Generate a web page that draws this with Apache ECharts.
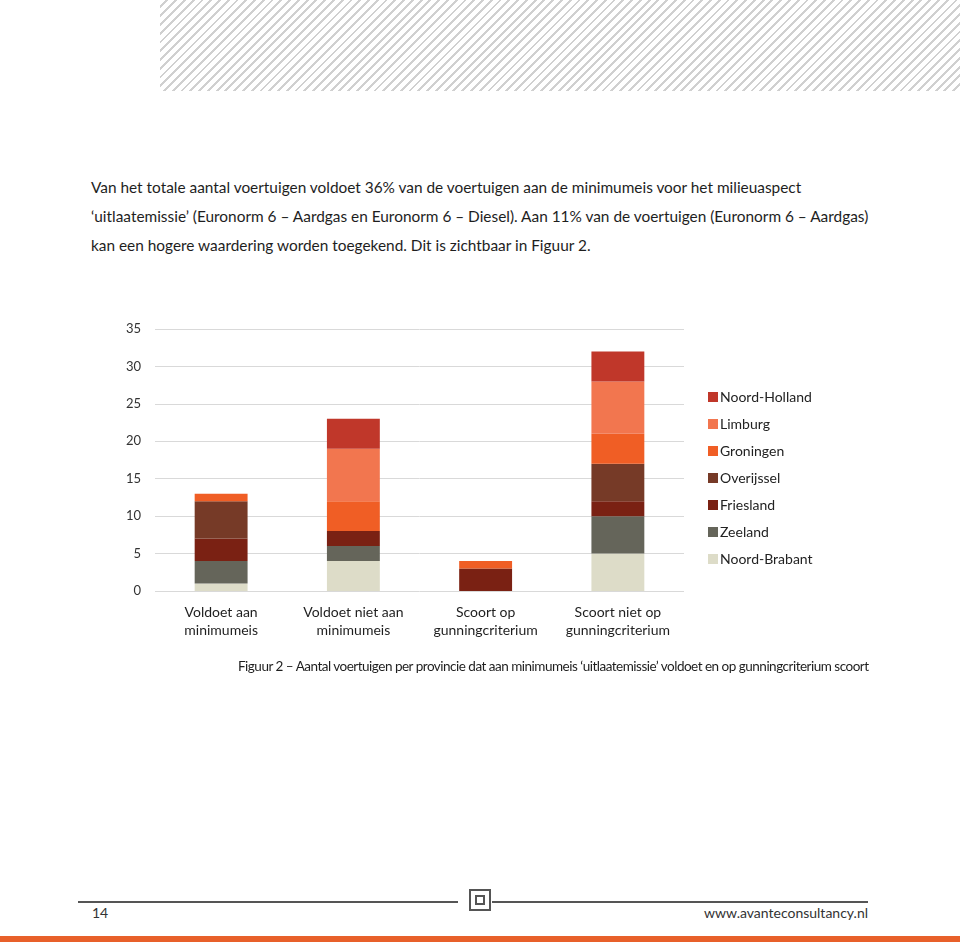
<!DOCTYPE html>
<html>
<head>
<meta charset="utf-8">
<script src="https://cdn.jsdelivr.net/npm/echarts@6/dist/echarts.min.js"></script>
<style>
  html, body { margin:0; padding:0; width:960px; height:942px; background:#fff; overflow:hidden; font-family: Lato, "Open Sans", sans-serif; color:#1e1e1e; }
  #hatch { position:absolute; left:160px; top:0; width:800px; height:91px;
    background: repeating-linear-gradient(135deg, #fff 0px, #fff 4.2px, #d0d0d0 4.2px, #d0d0d0 6.2px); }
  .para { position:absolute; left:91px; font-size:15.4px; white-space:nowrap; }
  #chart { position:absolute; left:0; top:300px; width:960px; height:360px; }
  #caption { position:absolute; left:238px; top:658px; font-size:13.5px; letter-spacing:-0.5px; white-space:nowrap; }
  .fline { position:absolute; top:901px; height:2px; background:#555; }
  #icon { position:absolute; left:469px; top:889px; width:18px; height:18px; border:2px solid #555; }
  #icon div { position:absolute; left:4px; top:4px; width:6px; height:6px; border:2px solid #555; }
  #pnum { position:absolute; left:92px; top:904px; font-size:14px; color:#333; }
  #url { position:absolute; right:92px; top:904px; font-size:14px; color:#333; }
  #orange { position:absolute; left:0; top:936px; width:960px; height:6px; background:#E8602A; }
</style>
</head>
<body>
<div id="hatch"></div>
<div class="para" style="top:178px">Van het totale aantal voertuigen voldoet 36% van de voertuigen aan de minimumeis voor het milieuaspect</div>
<div class="para" style="top:207px">‘uitlaatemissie’ (Euronorm 6 – Aardgas en Euronorm 6 – Diesel). Aan 11% van de voertuigen (Euronorm 6 – Aardgas)</div>
<div class="para" style="top:236px">kan een hogere waardering worden toegekend. Dit is zichtbaar in Figuur 2.</div>
<div id="chart"></div>
<div id="caption">Figuur 2 – Aantal voertuigen per provincie dat aan minimumeis ‘uitlaatemissie’ voldoet en op gunningcriterium scoort</div>
<div class="fline" style="left:78px; width:380px"></div>
<div class="fline" style="left:492px; width:376px"></div>
<div id="icon"><div></div></div>
<div id="pnum">14</div>
<div id="url">www.avanteconsultancy.nl</div>
<div id="orange"></div>
<script>
const categories = ['Voldoet aan\nminimumeis', 'Voldoet niet aan\nminimumeis', 'Scoort op\ngunningcriterium', 'Scoort niet op\ngunningcriterium'];
const noordBrabant = [1, 4, 0, 5];
const zeeland      = [3, 2, 0, 5];
const friesland    = [3, 2, 3, 2];
const overijssel   = [5, 0, 0, 5];
const groningen    = [1, 4, 1, 4];
const limburg      = [0, 7, 0, 7];
const noordHolland = [0, 4, 0, 4];
const yTicks = [0, 5, 10, 15, 20, 25, 30, 35];

const seriesDefs = [
  { name: 'Noord-Brabant', data: noordBrabant, color: '#DDDCC8' },
  { name: 'Zeeland',       data: zeeland,      color: '#65655A' },
  { name: 'Friesland',     data: friesland,    color: '#7A2113' },
  { name: 'Overijssel',    data: overijssel,   color: '#763A27' },
  { name: 'Groningen',     data: groningen,    color: '#F05E25' },
  { name: 'Limburg',       data: limburg,      color: '#F2764F' },
  { name: 'Noord-Holland', data: noordHolland, color: '#C0372A' }
];

const chart = echarts.init(document.getElementById('chart'), null, { renderer: 'canvas' });
chart.setOption({
  animation: false,
  textStyle: { fontFamily: 'Lato, "Open Sans", sans-serif' },
  grid: { left: 155, right: 276, top: 29, height: 262 },
  legend: {
    orient: 'vertical', left: 703, top: 85,
    itemWidth: 10, itemHeight: 10, itemGap: 13, icon: 'rect',
    data: seriesDefs.map(s => s.name).reverse(),
    textStyle: { fontSize: 14, color: '#222', padding: [0, 0, 0, -3] }
  },
  xAxis: {
    type: 'category', data: categories,
    axisLine: { show: false }, axisTick: { show: false },
    axisLabel: { fontSize: 14, color: '#1e1e1e', lineHeight: 18, margin: 12, interval: 0 }
  },
  yAxis: {
    type: 'value', min: 0, max: yTicks[yTicks.length - 1], interval: 5,
    axisLine: { show: false }, axisTick: { show: false },
    axisLabel: { fontSize: 13, color: '#333', margin: 14 },
    splitLine: { lineStyle: { color: '#d9d9d9', width: 1 } }
  },
  series: seriesDefs.map(s => ({
    name: s.name, type: 'bar', stack: 'total', data: s.data,
    barWidth: '40%', itemStyle: { color: s.color }
  }))
});
</script>
</body>
</html>
